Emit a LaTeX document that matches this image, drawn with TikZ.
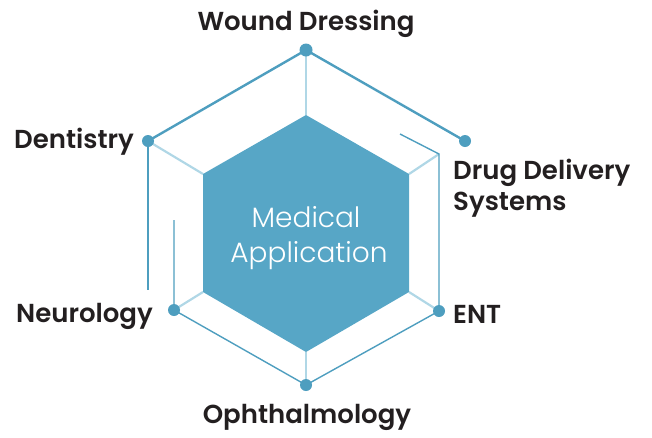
\documentclass[tikz,border=0pt]{standalone}
\usepackage{fontspec}
\setmainfont{Poppins}[BoldFont={Poppins SemiBold}]
\newfontfamily\lightfont{Poppins Light}
\definecolor{hexblue}{HTML}{57A6C6}
\definecolor{lineblue}{HTML}{4E9EBF}
\definecolor{spoke}{HTML}{B0D7E6}
\definecolor{txt}{HTML}{231F20}
\tikzset{
  dot/.style={circle,fill=lineblue,inner sep=0pt,minimum size=12pt},
  thickline/.style={draw=lineblue,line width=2.4pt},
  thinline/.style={draw=lineblue,line width=1.4pt},
  spokeline/.style={draw=spoke,line width=2.2pt},
  lbl/.style={font=\bfseries\fontsize{26}{30}\selectfont,text=txt,inner sep=0pt},
  centertxt/.style={font=\lightfont\fontsize{28}{32}\selectfont,text=white,inner sep=0pt}
}
\begin{document}
\begin{tikzpicture}[x=1pt,y=-1pt]
\useasboundingbox (0,0) rectangle (652,437);
% inner hexagon corners
\coordinate (i1) at (306,115);
\coordinate (i2) at (409,174);
\coordinate (i3) at (409,292);
\coordinate (i4) at (306,352);
\coordinate (i5) at (203,292);
\coordinate (i6) at (203,174);
% free ends
\coordinate (ulend) at (148,290);
\coordinate (lltop) at (174,220);
\coordinate (rtop) at (439,154);
\coordinate (rstart) at (400,134);
% outer dots (positions)
\coordinate (T) at (306,50);
\coordinate (UR) at (465,141);
\coordinate (LR) at (439,311);
\coordinate (B) at (306,385);
\coordinate (LL) at (174,310);
\coordinate (UL) at (148,141);
% spokes
\draw[spokeline] (i1) -- (T);
\draw[spokeline] (i6) -- (UL);
\draw[spokeline] (i2) -- (rtop);
\draw[spokeline] (i3) -- (LR);
\draw[spokeline] (i5) -- (LL);
\draw[spokeline] (i4) -- (B);
% hexagon
\fill[hexblue] (i1) -- (i2) -- (i3) -- (i4) -- (i5) -- (i6) -- cycle;
% outer lines
\draw[thickline] (UL) -- (T) -- (UR);
\draw[thickline] (UL) -- (ulend);
\draw[thinline] (rstart) -- (rtop) -- (LR);
\draw[thinline] (lltop) -- (LL) -- (B) -- (LR);
% dots
\node[dot,minimum size=13pt] (dT) at (T) {};
\node[dot] (dUR) at (UR) {};
\node[dot] (dLR) at (LR) {};
\node[dot] (dB) at (B) {};
\node[dot] (dLL) at (LL) {};
\node[dot] (dUL) at (UL) {};
% center text
\node[centertxt,anchor=base] (med) at (306,227) {Medical};
\node[centertxt,anchor=base] (app) at (309,262) {Application};
% labels
\node[lbl,anchor=base] (wd) at (306,30) {Wound Dressing};
\node[lbl,anchor=base west] (den) at (14,148) {Dentistry};
\node[lbl,anchor=base west] (ddl) at (453,179) {Drug Delivery};
\node[lbl,anchor=base west] (sys) at (453,210) {Systems};
\node[lbl,anchor=base west] (ent) at (453,323) {ENT};
\node[lbl,anchor=base west] (neu) at (16,322) {Neurology};
\node[lbl,anchor=base] (oph) at (307,423) {Ophthalmology};
\end{tikzpicture}
\end{document}
